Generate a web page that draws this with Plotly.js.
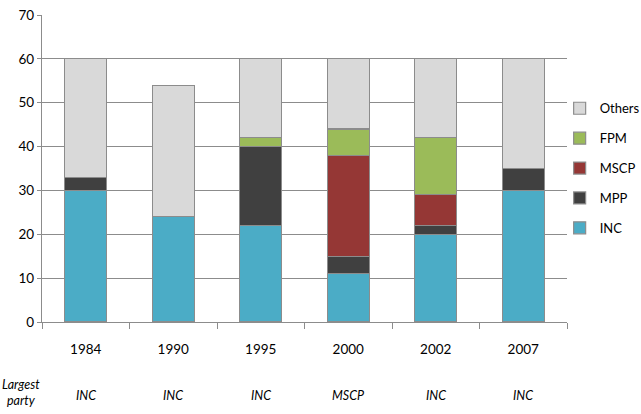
<!DOCTYPE html>
<html>
<head>
<meta charset="utf-8">
<script src="https://cdn.plot.ly/plotly-3.0.1.min.js"></script>
<style>html,body{margin:0;padding:0;background:#fff}#chart{width:641px;height:414px}</style>
</head>
<body>
<div id="chart"></div>
<script>
var years = ["1984", "1990", "1995", "2000", "2002", "2007"];
var largestParty = ["INC", "INC", "INC", "MSCP", "INC", "INC"];
var inc = [30, 24, 22, 11, 20, 30];
var mpp = [3, 0, 18, 4, 2, 5];
var mscp = [0, 0, 0, 23, 7, 0];
var fpm = [0, 0, 2, 6, 13, 0];
var others = [27, 30, 18, 16, 18, 25];

var seriesNames = ["INC", "MPP", "MSCP", "FPM", "Others"];
var seriesValues = [inc, mpp, mscp, fpm, others];
var seriesColors = ["#4BACC6", "#404040", "#953735", "#9BBB59", "#D9D9D9"];

var traces = seriesNames.map(function (n, i) {
  return {
    type: "bar",
    name: n,
    x: years,
    y: seriesValues[i],
    legendgroup: n,
    legendrank: 1000 - i,
    marker: { color: seriesColors[i], line: { color: "#8C8C8C", width: 1.2 } },
    hoverinfo: "name+y"
  };
});

var font = "Lato, 'Open Sans', sans-serif";
var annotations = [
  { text: "<i>Largest<br>party</i>", xref: "paper", yref: "paper", x: -0.04, y: -0.23, xanchor: "center", yanchor: "middle", showarrow: false, font: { family: font, size: 12.5, color: "#000" } }
];
years.forEach(function (yr, i) {
  annotations.push({ text: "<i>" + largestParty[i] + "</i>", xref: "x", yref: "paper", x: i, y: -0.238, xanchor: "center", yanchor: "middle", showarrow: false, font: { family: font, size: 12.5, color: "#000" } });
});

var layout = {
  width: 641, height: 414,
  margin: { l: 42, r: 74, t: 15, b: 92, autoexpand: false },
  barmode: "stack",
  bargap: 0.52,
  paper_bgcolor: "#fff", plot_bgcolor: "#fff",
  font: { family: font, size: 13, color: "#000" },
  showlegend: true,
  legend: { x: 0.986, y: 0.745, xanchor: "left", yanchor: "top", traceorder: "grouped", tracegroupgap: 10, font: { family: font, size: 13 }, itemwidth: 30, bgcolor: "rgba(0,0,0,0)" },
  xaxis: {
    type: "category", range: [-0.5, 5.5], autorange: false, tickson: "boundaries", ticks: "outside", ticklen: 6, tickcolor: "#8C8C8C", tickwidth: 1,
    showline: true, linecolor: "#8C8C8C", linewidth: 1.2, showgrid: false,
    ticklabelstandoff: 15, tickfont: { family: font, size: 13.5 }, fixedrange: true
  },
  yaxis: {
    range: [0, 70], dtick: 10, ticks: "outside", ticklen: 4, tickcolor: "#8C8C8C",
    showline: true, linecolor: "#8C8C8C", linewidth: 1.2, showgrid: true, gridcolor: "#8C8C8C", gridwidth: 1,
    zeroline: false, tickfont: { family: font, size: 13.5 }, fixedrange: true
  },
  annotations: annotations
};

Plotly.newPlot("chart", traces, layout, { displayModeBar: false, staticPlot: true });
</script>
</body>
</html>
